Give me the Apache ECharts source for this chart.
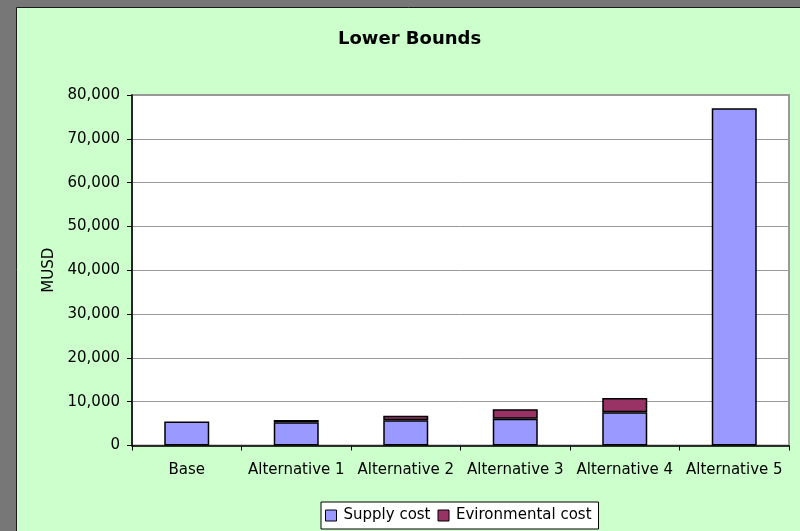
<!DOCTYPE html>
<html>
<head>
<meta charset="utf-8">
<script src="https://cdn.jsdelivr.net/npm/echarts@6/dist/echarts.min.js"></script>
<style>
html,body{margin:0;padding:0;background:#777;}
#c{width:800px;height:531px;}
</style>
</head>
<body>
<div id="c"></div>
<script>
var categories = ['Base', 'Alternative 1', 'Alternative 2', 'Alternative 3', 'Alternative 4', 'Alternative 5'];
var supplyCost = [5450, 5300, 5750, 6100, 7600, 77000];
var envCost = [null, 500, 1050, 2200, 3250, null];
var seriesNames = ['Supply cost', 'Evironmental cost'];
var titleText = 'Lower Bounds';
var yAxisName = 'MUSD';

var FONT = 'DejaVu Sans';
var chart = echarts.init(document.getElementById('c'), null, {renderer: 'canvas'});
chart.setOption({
  backgroundColor: '#777777',
  animation: false,
  graphic: [{
    type: 'rect', left: 16, top: 7, z: -10,
    shape: {width: 800, height: 540},
    style: {fill: '#ccffcc', stroke: '#1a1a1a', lineWidth: 1}
  }],
  title: {
    text: titleText, left: 333, top: 25,
    textStyle: {fontFamily: FONT, fontSize: 18, fontWeight: 'bold', color: '#000'}
  },
  legend: {
    data: seriesNames, left: 321, top: 502,
    backgroundColor: '#fff', borderColor: '#000', borderWidth: 1,
    padding: [6, 7, 6, 4], itemGap: 7, itemWidth: 11, itemHeight: 11,
    icon: 'rect',
    itemStyle: {borderColor: '#000', borderWidth: 1},
    textStyle: {fontFamily: FONT, fontSize: 15, color: '#000', padding: [0,0,0,2]}
  },
  grid: {
    left: 132, right: 11, top: 95, bottom: 85.5,
    show: true, backgroundColor: '#fff', borderColor: '#999', borderWidth: 2,
    containLabel: false
  },
  xAxis: {
    type: 'category', data: categories,
    axisLine: {lineStyle: {color: '#000', width: 1.5}},
    axisTick: {show: true, length: 5, lineStyle: {color: '#000'}, interval: 0},
    axisLabel: {fontFamily: FONT, fontSize: 15, color: '#000', margin: 17, interval: 0}
  },
  yAxis: {
    type: 'value', min: 0, max: 80000, interval: 10000,
    name: yAxisName, nameLocation: 'middle', nameGap: 74, nameRotate: 90,
    nameTextStyle: {fontFamily: FONT, fontSize: 15, color: '#000'},
    axisLine: {show: true, lineStyle: {color: '#000', width: 1.5}},
    axisTick: {show: true, length: 5, lineStyle: {color: '#000'}},
    axisLabel: {fontFamily: FONT, fontSize: 15, color: '#000', margin: 12,
      formatter: function (v) { return v.toLocaleString('en-US'); }},
    splitLine: {lineStyle: {color: '#999', width: 1}}
  },
  series: [{
    name: seriesNames[0], type: 'bar', stack: 'total', data: supplyCost, barWidth: 45,
    itemStyle: {color: '#9999ff', borderColor: '#000', borderWidth: 1.5}
  }, {
    name: seriesNames[1], type: 'bar', stack: 'total', data: envCost, barWidth: 45,
    itemStyle: {color: '#993366', borderColor: '#000', borderWidth: 1.5}
  }]
});
</script>
</body>
</html>
